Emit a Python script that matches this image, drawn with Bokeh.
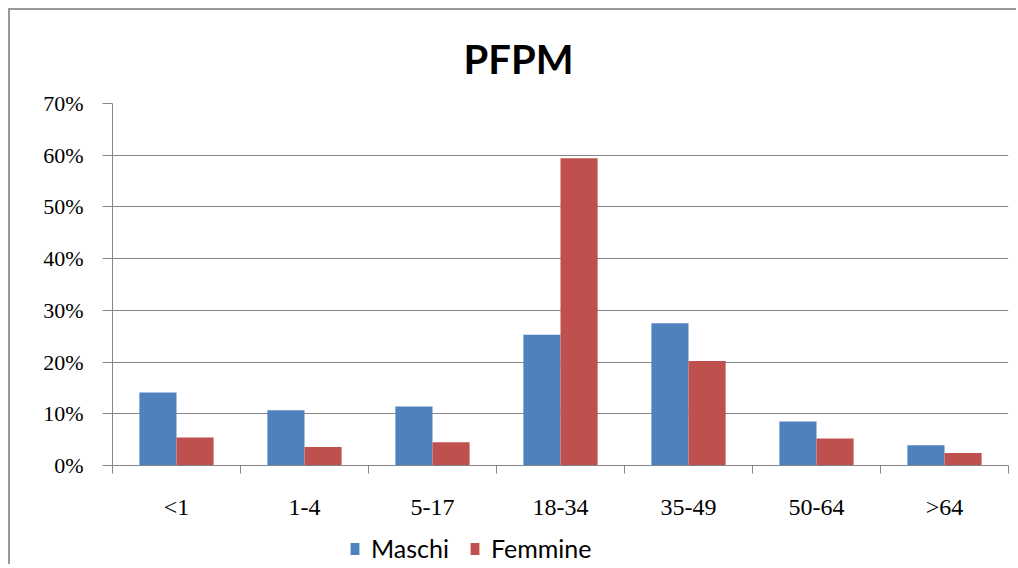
from bokeh.plotting import figure
from bokeh.models import (ColumnDataSource, Range1d, FixedTicker, PrintfTickFormatter,
                          CustomJSTickFormatter, Legend, LegendItem, Spacer)
from bokeh.layouts import column, row
from bokeh.transform import dodge
from bokeh.embed import file_html
from bokeh.resources import INLINE

categories = ["<1", "1-4", "5-17", "18-34", "35-49", "50-64", ">64"]
maschi = [14.1, 10.7, 11.4, 25.3, 27.5, 8.5, 3.9]
femmine = [5.4, 3.6, 4.5, 59.4, 20.2, 5.2, 2.4]
y_ticks = [0, 10, 20, 30, 40, 50, 60, 70]
series_names = ["Maschi", "Femmine"]
colors = ["#4F81BD", "#C0504D"]

pos = [i + 0.5 for i in range(len(categories))]
source = ColumnDataSource(data=dict(x=pos, cat=categories, maschi=maschi, femmine=femmine))

p = figure(width=1008, height=515, output_backend="svg", toolbar_location=None,
           x_range=Range1d(0, len(categories)), y_range=Range1d(0, 70),
           min_border_left=102, min_border_right=10, min_border_top=93, min_border_bottom=60)
p.styles = {"border-top": "2px solid #9a9a9a", "border-left": "2px solid #9a9a9a"}
p.outline_line_color = None
p.background_fill_color = "white"
p.border_fill_color = "white"

bw = 0.29
r1 = p.vbar(x=dodge("x", -bw / 2, range=p.x_range), top="maschi", width=bw, source=source,
            fill_color=colors[0], line_color=None)
r2 = p.vbar(x=dodge("x", bw / 2, range=p.x_range), top="femmine", width=bw, source=source,
            fill_color=colors[1], line_color=None)

# title
p.title.text = "PFPM"
p.title.text_font = "Lato"
p.title.text_font_style = "bold"
p.title.text_font_size = "40px"
p.title.align = "left"
p.title.offset = 351
p.title.standoff = 42
p.title.text_color = "black"

# grid
p.xgrid.grid_line_color = None
p.ygrid.ticker = FixedTicker(ticks=y_ticks)
p.ygrid.grid_line_color = "#868686"
p.ygrid.grid_line_width = 1

# y axis
ya = p.yaxis[0]
ya.ticker = FixedTicker(ticks=y_ticks)
ya.formatter = PrintfTickFormatter(format="%d%%")
ya.axis_line_color = "#868686"
ya.major_tick_line_color = "#868686"
ya.major_tick_out = 10
ya.major_tick_in = 0
ya.minor_tick_line_color = None
ya.major_label_text_font = "Liberation Serif"
ya.major_label_text_font_size = "22px"
ya.major_label_text_color = "black"
ya.major_label_standoff = 19

# x axis: labels at category centres, ticks at boundaries
xa = p.xaxis[0]
xa.ticker = FixedTicker(ticks=pos, minor_ticks=list(range(len(categories) + 1)))
xa.formatter = CustomJSTickFormatter(args=dict(cats=categories),
                                     code="return cats[Math.floor(tick)];")
xa.axis_line_color = "#868686"
xa.major_tick_out = 0
xa.major_tick_in = 0
xa.major_tick_line_color = None
xa.minor_tick_line_color = "#868686"
xa.minor_tick_out = 8
xa.minor_tick_in = 0
xa.major_label_text_font = "Liberation Serif"
xa.major_label_text_font_size = "24px"
xa.major_label_text_color = "black"
xa.major_label_standoff = 20

# legend strip (separate small figure so the legend is not clipped);
# its bars use the same data but lie below its visible y range
q = figure(width=1010, height=41, output_backend="svg", toolbar_location=None,
           x_axis_location=None, y_axis_location=None,
           x_range=Range1d(0, len(categories)), y_range=Range1d(100, 101),
           min_border=0, min_border_left=0, min_border_right=0, min_border_top=0, min_border_bottom=0)
q.styles = {"border-left": "2px solid #9a9a9a"}
q.grid.visible = False
q.outline_line_color = None
q.border_fill_color = "white"
q.background_fill_color = "white"
l1 = q.vbar(x="x", top="maschi", width=bw, source=source, fill_color=colors[0], line_color=None)
l2 = q.vbar(x="x", top="femmine", width=bw, source=source, fill_color=colors[1], line_color=None)

legend = Legend(items=[LegendItem(label=series_names[0], renderers=[l1]),
                       LegendItem(label=series_names[1], renderers=[l2])],
                orientation="horizontal", location=(237, 1))
legend.padding = 0
legend.margin = 0
legend.spacing = 20
legend.label_standoff = 11
legend.glyph_width = 11
legend.glyph_height = 15
legend.label_text_font = "Lato"
legend.label_text_font_size = "25px"
legend.label_text_color = "black"
legend.border_line_color = None
legend.background_fill_alpha = 0
q.add_layout(legend, "center")

layout = column(Spacer(height=8), row(Spacer(width=8), column(p, q)))

open("out.html", "w").write(file_html(layout, INLINE))
